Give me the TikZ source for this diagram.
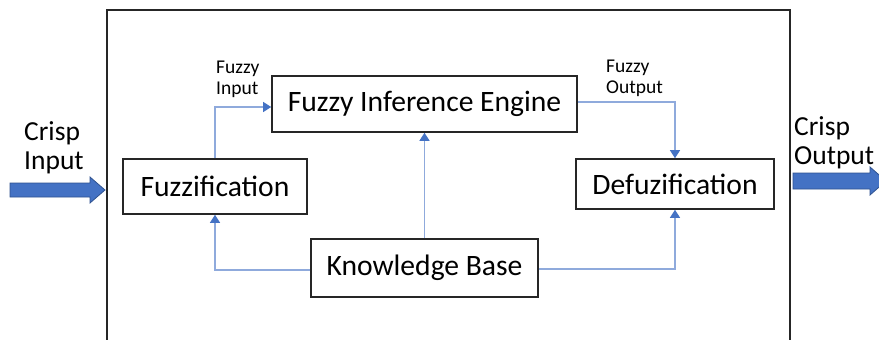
\documentclass[tikz,border=0pt]{standalone}
\usepackage{fontspec}
\setmainfont{Carlito}
\usetikzlibrary{arrows.meta}
\definecolor{linkblue}{HTML}{8FAADC}
\definecolor{tipblue}{HTML}{4472C4}
\definecolor{arrowfill}{HTML}{4472C4}
\definecolor{arrowedge}{HTML}{2F528F}
\tikzset{
  block/.style={draw=black!85, line width=1.6pt, fill=white, inner sep=0pt,
    font=\fontsize{29.6}{34}\selectfont},
  link/.style={draw=linkblue, line width=1.1pt,
    -{Triangle[length=8pt,width=10pt,color=tipblue]}},
  smalllabel/.style={font=\fontsize{19.5}{21}\selectfont, align=left, inner sep=0pt, anchor=west},
  biglabel/.style={font=\fontsize{27.5}{29}\selectfont, align=left, inner sep=0pt, anchor=west},
  blockarrow/.style={fill=arrowfill, draw=arrowedge, line width=0.8pt}
}
\begin{document}
\begin{tikzpicture}[x=1pt,y=-1pt]
\useasboundingbox (0,0) rectangle (879,340);
\clip (0,0) rectangle (879,340);
\fill[white] (0,0) rectangle (879,340);

% system frame (open at the bottom)
\draw[line width=1.8pt, black!85] (107,350) -- (107,10) -- (790,10) -- (790,350);

% processing blocks
\node[block, minimum width=184pt, minimum height=55pt] (fuzz) at (215,186.5) {Fuzzification};
\node[block, minimum width=305pt, minimum height=56pt] (fie) at (424.5,104) {Fuzzy Inference Engine};
\node[block, minimum width=198pt, minimum height=50pt] (defuz) at (675,184) {Defuzification};
\node[block, minimum width=227pt, minimum height=58pt] (kb) at (424.5,268) {Knowledge Base};

% flow between blocks
\draw[link] (fuzz.north) |- ([yshift=-3pt]fie.west);
\draw[link] ([yshift=2pt]fie.east) -| (defuz.north);
\draw[link] ([yshift=-2pt]kb.west) -| (fuzz.south);
\draw[link] (kb.north) -- (fie.south);
\draw[link] ([yshift=-1pt]kb.east) -| (defuz.south);

% labels on the links
\node[smalllabel] (fin) at (216,79) {Fuzzy\\Input};
\node[smalllabel] (fout) at (606,78) {Fuzzy\\Output};

% crisp input and output
\node[biglabel] (cin) at (24,148) {Crisp\\Input};
\node[biglabel] (cout) at (794,143) {Crisp\\Output};

\draw[blockarrow] (10,183) -- (90,183) -- (90,177) -- (105,190) -- (90,203)
  -- (90,197) -- (10,197) -- cycle;
\draw[blockarrow] (793,173) -- (870,173) -- (870,167) -- (886,181) -- (870,195)
  -- (870,189) -- (793,189) -- cycle;
\end{tikzpicture}
\end{document}
